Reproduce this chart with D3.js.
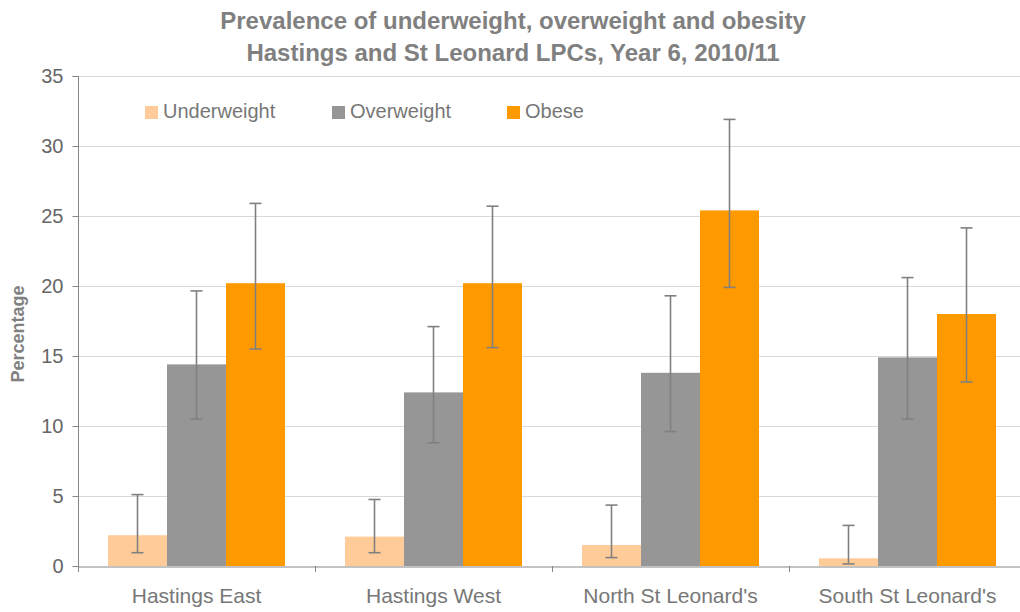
<!DOCTYPE html>
<html><head><meta charset="utf-8">
<script src="https://cdnjs.cloudflare.com/ajax/libs/d3/7.8.5/d3.min.js"></script>
<style>
html,body{margin:0;padding:0;background:#fff;}
svg{display:block;font-family:"Liberation Sans",Arial,sans-serif;}
</style></head>
<body><svg id="chart" width="1020" height="612"></svg>
<script>
const categories = ["Hastings East", "Hastings West", "North St Leonard's", "South St Leonard's"];
const seriesNames = ["Underweight", "Overweight", "Obese"];
const underweight = [2.2, 2.1, 1.5, 0.55];
const overweight = [14.4, 12.4, 13.8, 14.9];
const obese = [20.2, 20.2, 25.4, 18.0];
const underweightLow = [0.95, 0.95, 0.6, 0.15];
const underweightHigh = [5.1, 4.75, 4.35, 2.9];
const overweightLow = [10.5, 8.8, 9.6, 10.5];
const overweightHigh = [19.65, 17.1, 19.3, 20.6];
const obeseLow = [15.5, 15.6, 19.9, 13.15];
const obeseHigh = [25.9, 25.7, 31.9, 24.15];
const yTicks = [0, 5, 10, 15, 20, 25, 30, 35];
const colors = ["#FFCC99", "#969696", "#FF9900"];
const titleLines = ["Prevalence of underweight, overweight and obesity", "Hastings and St Leonard LPCs, Year 6, 2010/11"];
const yLabel = "Percentage";

const svg = d3.select("#chart");
const margin = {left: 78, right: 1026, top: 76, bottom: 566};
const values = [underweight, overweight, obese];
const lows = [underweightLow, overweightLow, obeseLow];
const highs = [underweightHigh, overweightHigh, obeseHigh];

const x0 = d3.scaleBand().domain(categories).range([margin.left, margin.right]).paddingInner(0).paddingOuter(0);
const x1 = d3.scaleBand().domain(seriesNames).range([30, x0.bandwidth() - 30]).padding(0);
const y = d3.scaleLinear().domain([0, 35]).range([margin.bottom, margin.top]);

const textColor = "#808080";
const axisColor = "#868686";

// gridlines
svg.append("g").selectAll("line").data(yTicks.filter(d => d > 0)).join("line")
  .attr("x1", margin.left).attr("x2", margin.right)
  .attr("y1", d => y(d) + 0.5).attr("y2", d => y(d) + 0.5)
  .attr("stroke", "#D9D9D9").attr("stroke-width", 1);

// y axis
const yAxis = svg.append("g").attr("transform", `translate(${margin.left + 0.5},0)`)
  .call(d3.axisLeft(y).tickValues(yTicks).tickSize(6).tickPadding(9).tickFormat(d3.format("d")));
yAxis.select(".domain").attr("stroke", axisColor).attr("d", `M-6,${margin.top + 0.5}H0V${margin.bottom + 6}`);
yAxis.selectAll(".tick line").attr("stroke", axisColor);
yAxis.selectAll(".tick text").attr("fill", "#666").style("font-size", "20px").style("font-family", "Liberation Sans, Arial, sans-serif");

// bars
const groups = svg.append("g").selectAll("g").data(categories).join("g")
  .attr("transform", d => `translate(${x0(d)},0)`);
seriesNames.forEach((s, si) => {
  groups.append("rect")
    .attr("x", x1(s))
    .attr("width", x1.bandwidth())
    .attr("y", (d, i) => y(values[si][i]))
    .attr("height", (d, i) => y(0) - y(values[si][i]))
    .attr("fill", colors[si]);
});

// x axis
const xAxis = svg.append("g").attr("transform", `translate(0,${margin.bottom + 0.5})`)
  .call(d3.axisBottom(x0).tickSize(0).tickPadding(22));
xAxis.select(".domain").attr("stroke", axisColor);
xAxis.selectAll(".tick text").attr("fill", "#777").style("font-size", "21px").style("font-family", "Liberation Sans, Arial, sans-serif");
svg.append("g").selectAll("line").data(categories.slice(1)).join("line")
  .attr("x1", d => x0(d) + 0.5).attr("x2", d => x0(d) + 0.5)
  .attr("y1", margin.bottom).attr("y2", margin.bottom + 6)
  .attr("stroke", axisColor);

// error bars
seriesNames.forEach((s, si) => {
  const cx = (d) => x0(d) + x1(s) + x1.bandwidth() / 2;
  const eg = svg.append("g").attr("stroke", "#808080").attr("stroke-width", 1.6).attr("fill", "none");
  eg.selectAll("line.v").data(categories).join("line")
    .attr("x1", cx).attr("x2", cx)
    .attr("y1", (d, i) => y(lows[si][i])).attr("y2", (d, i) => y(highs[si][i]));
  eg.selectAll("line.h").data(categories).join("line")
    .attr("x1", d => cx(d) - 6).attr("x2", d => cx(d) + 6)
    .attr("y1", (d, i) => y(lows[si][i])).attr("y2", (d, i) => y(lows[si][i]));
  eg.selectAll("line.t").data(categories).join("line")
    .attr("x1", d => cx(d) - 6).attr("x2", d => cx(d) + 6)
    .attr("y1", (d, i) => y(highs[si][i])).attr("y2", (d, i) => y(highs[si][i]));
});

// title
svg.append("g").selectAll("text").data(titleLines).join("text")
  .attr("x", 513).attr("y", (d, i) => 29 + i * 32)
  .attr("text-anchor", "middle").attr("fill", textColor)
  .style("font-size", "24px").style("font-weight", "bold").text(d => d);

// y label
svg.append("text").attr("transform", "translate(24,334) rotate(-90)")
  .attr("text-anchor", "middle").attr("fill", textColor)
  .style("font-size", "18px").style("font-weight", "bold").text(yLabel);

// legend
const legendX = [145, 332, 507];
const lg = svg.append("g").selectAll("g").data(seriesNames).join("g")
  .attr("transform", (d, i) => `translate(${legendX[i]},106)`);
lg.append("rect").attr("width", 13).attr("height", 13).attr("fill", (d, i) => colors[i]);
lg.append("text").attr("x", 18).attr("y", 12).attr("fill", "#777")
  .style("font-size", "20px").text(d => d);
</script></body></html>
